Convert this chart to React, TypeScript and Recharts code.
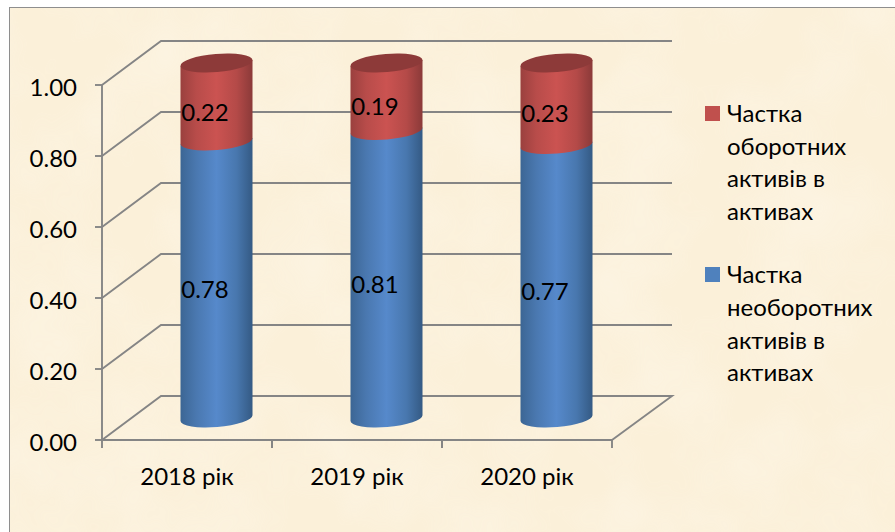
import React from "react";
import { Bar, BarChart, CartesianGrid, LabelList, Legend, XAxis, YAxis } from "recharts";

const years = ["2018 рік", "2019 рік", "2020 рік"];
const nonCurrentShare = [0.78, 0.81, 0.77];
const currentShare = [0.22, 0.19, 0.23];
const valueTicks = [0, 0.2, 0.4, 0.6, 0.8, 1];

const nonCurrentName = "Частка необоротних активів в активах";
const currentName = "Частка оборотних активів в активах";

const rows = years.map((year, i) => ({
  year,
  nonCurrent: nonCurrentShare[i],
  current: currentShare[i],
}));

const FONT = "Lato, 'Noto Sans', sans-serif";
const AXIS = "#858585";
const AXIS_W = 1.9;
const CHART_W = 895;
const CHART_H = 532;
const LEFT = 102;
const PLOT_W = 510;
const TOP = 85;
const BOTTOM = 92;

// Oblique projection of the chart's depth.
const WALL_DX = 59;
const WALL_DY = -44;
const CYL_DX = 29.5;
const CYL_DY = -22;
const CYL_RY = 9;
const CYL_TILT = 3;

function Cylinder(props: any) {
  const { x, y, width, height, gradient, cap } = props;
  const rx = width / 2;
  const cx = x + rx + CYL_DX;
  const top = y + CYL_DY;
  const bottom = y + height + CYL_DY;
  const rot = (Math.atan2(-CYL_TILT, rx) * 180) / Math.PI;
  const r = Math.hypot(rx, CYL_TILT);
  const side = [
    `M ${cx - rx} ${top + CYL_TILT}`,
    `L ${cx + rx} ${top - CYL_TILT}`,
    `L ${cx + rx} ${bottom - CYL_TILT}`,
    `A ${r} ${CYL_RY} ${rot} 0 1 ${cx - rx} ${bottom + CYL_TILT}`,
    "Z",
  ].join(" ");
  return (
    <g>
      <path d={side} fill={`url(#${gradient})`} />
      {cap && (
        <ellipse
          cx={cx}
          cy={top}
          rx={r}
          ry={CYL_RY}
          transform={`rotate(${rot} ${cx} ${top})`}
          fill="#8d3a39"
        />
      )}
    </g>
  );
}

function ValueLabel(props: any) {
  const { x, y, width, height, value } = props;
  return (
    <text
      x={x + width / 2 + 18}
      y={y + height / 2 - 13}
      textAnchor="middle"
      dominantBaseline="central"
      fontFamily={FONT}
      fontSize={24}
      fill="#000"
    >
      {Number(value).toFixed(2)}
    </text>
  );
}

function WallLine(props: any) {
  const { x1, y1, x2, index } = props;
  const floor = y1 >= CHART_H - BOTTOM - 0.5;
  const bx = x1 + WALL_DX;
  const by = y1 + WALL_DY;
  const ex = x2 + 60;
  const pts = `${x1},${y1} ${bx},${by} ${ex},${by}${floor ? ` ${x2},${y1}` : ""}`;
  return <polyline key={index} points={pts} fill="none" stroke={AXIS} strokeWidth={AXIS_W} />;
}

function YearTick(props: any) {
  const { x, y, payload } = props;
  const band = PLOT_W / years.length;
  return (
    <g>
      <line x1={x - band / 2} x2={x - band / 2} y1={y} y2={y + 8} stroke={AXIS} strokeWidth={AXIS_W} />
      <line x1={x + band / 2} x2={x + band / 2} y1={y} y2={y + 8} stroke={AXIS} strokeWidth={AXIS_W} />
      <text x={x} y={y + 35} textAnchor="middle" dominantBaseline="central" fontFamily={FONT} fontSize={24} fill="#000">
        {payload.value}
      </text>
    </g>
  );
}

function LegendList(props: any) {
  const items = [...(props.payload ?? [])].reverse();
  return (
    <div style={{ fontFamily: FONT, fontSize: 24, lineHeight: "32.6px", color: "#000" }}>
      {items.map((item: any) => (
        <div key={item.value} style={{ position: "relative", paddingLeft: 22, marginBottom: 31 }}>
          <span
            style={{
              position: "absolute",
              left: 0,
              top: 9,
              width: 15,
              height: 15,
              background: item.color,
            }}
          />
          {item.value}
        </div>
      ))}
    </div>
  );
}

function Parchment() {
  return (
    <svg width={886} height={525} style={{ position: "absolute", left: 0, top: 0 }}>
      <defs>
        <filter id="mottle" x="0" y="0" width="100%" height="100%">
          <feTurbulence type="fractalNoise" baseFrequency="0.012" numOctaves={3} seed={4} />
          <feColorMatrix
            type="matrix"
            values="0 0 0 0 1  0 0 0 0 0.96  0 0 0 0 0.88  0 0 0 0.9 -0.3"
          />
        </filter>
      </defs>
      <rect width={886} height={525} fill="#fbf0d9" />
      <rect width={886} height={525} filter="url(#mottle)" opacity={0.7} />
    </svg>
  );
}

export default function App() {
  return (
    <div style={{ position: "absolute", left: 0, top: 0, width: CHART_W, height: CHART_H, overflow: "hidden", background: "#fff" }}>
      <div
        style={{
          position: "absolute",
          left: 9,
          top: 7,
          width: 886,
          height: 525,
          borderLeft: "1.5px solid #8e8e8e",
          borderTop: "1.5px solid #8e8e8e",
        }}
      >
        <Parchment />
      </div>
      <div style={{ position: "absolute", left: 0, top: 0 }}>
        <BarChart
          width={CHART_W}
          height={CHART_H}
          data={rows}
          margin={{ top: TOP, right: CHART_W - LEFT - PLOT_W, bottom: 0, left: 0 }}
          barCategoryGap={0}
        >
          <defs>
            <linearGradient id="cylBlue" x1="0" x2="1" y1="0" y2="0">
              <stop offset="0" stopColor="#3c6694" />
              <stop offset="0.22" stopColor="#4a78b0" />
              <stop offset="0.5" stopColor="#5689cb" />
              <stop offset="0.78" stopColor="#4877ae" />
              <stop offset="1" stopColor="#345a84" />
            </linearGradient>
            <linearGradient id="cylRed" x1="0" x2="1" y1="0" y2="0">
              <stop offset="0" stopColor="#9a403e" />
              <stop offset="0.22" stopColor="#b84c4a" />
              <stop offset="0.5" stopColor="#cb5351" />
              <stop offset="0.78" stopColor="#b44a48" />
              <stop offset="1" stopColor="#8b3a39" />
            </linearGradient>
          </defs>
          <CartesianGrid horizontal={(p: any) => <WallLine {...p} />} vertical={false} />
          <XAxis
            dataKey="year"
            height={BOTTOM}
            axisLine={{ stroke: AXIS, strokeWidth: AXIS_W }}
            tickLine={false}
            tickSize={0}
            tickMargin={0}
            tick={<YearTick />}
            interval={0}
          />
          <YAxis
            width={LEFT}
            domain={[0, 1]}
            ticks={valueTicks}
            interval={0}
            tickFormatter={(v: number) => v.toFixed(2)}
            axisLine={{ stroke: AXIS, strokeWidth: AXIS_W }}
            tickLine={{ stroke: AXIS, strokeWidth: AXIS_W }}
            tickSize={7}
            tickMargin={18}
            tick={{ fill: "#000", fontFamily: FONT, fontSize: 24, dy: 2 }}
          />
          <Legend
            layout="horizontal"
            verticalAlign="middle"
            wrapperStyle={{ left: 705, top: 97, width: 175 }}
            content={<LegendList />}
          />
          <Bar
            dataKey="nonCurrent"
            name={nonCurrentName}
            stackId="share"
            fill="#4f81bd"
            barSize={72}
            isAnimationActive={false}
            shape={(p: any) => <Cylinder {...p} gradient="cylBlue" />}
          >
            <LabelList dataKey="nonCurrent" content={<ValueLabel />} />
          </Bar>
          <Bar
            dataKey="current"
            name={currentName}
            stackId="share"
            fill="#c0504d"
            barSize={72}
            isAnimationActive={false}
            shape={(p: any) => <Cylinder {...p} gradient="cylRed" cap />}
          >
            <LabelList dataKey="current" content={<ValueLabel />} />
          </Bar>
        </BarChart>
      </div>
    </div>
  );
}
